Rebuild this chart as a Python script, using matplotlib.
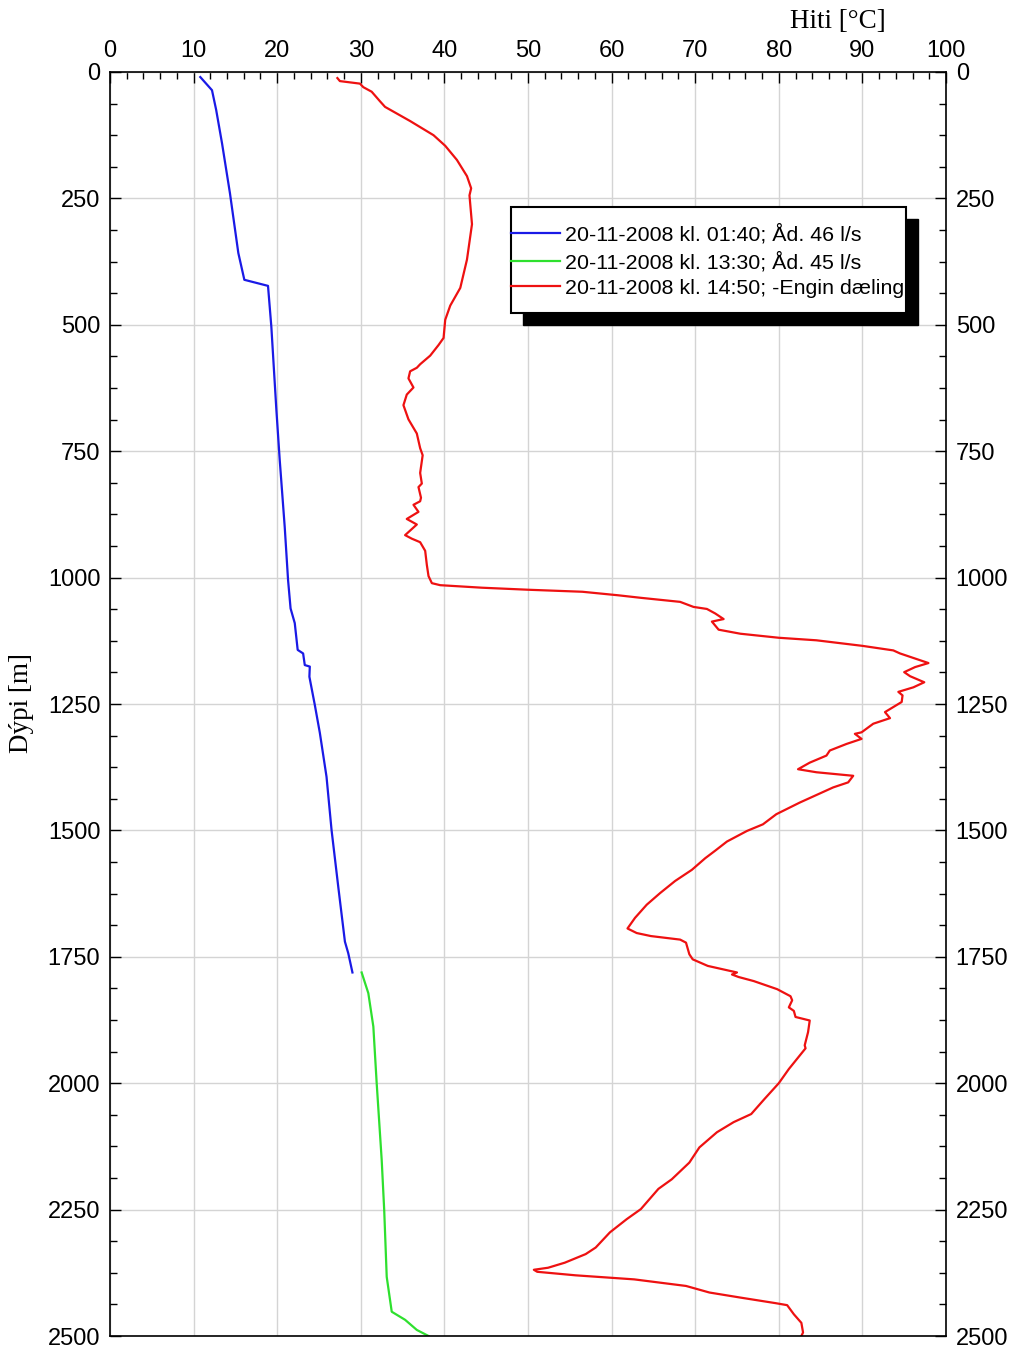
import matplotlib
matplotlib.use("Agg")
import matplotlib.pyplot as plt
from matplotlib.patches import Rectangle
from matplotlib.ticker import MultipleLocator

# ---------------- data ----------------
blue_depth = [10, 36, 75, 141, 240, 358, 411, 423, 504, 668, 767, 900, 1005, 1061,
              1090, 1143, 1150, 1173, 1176, 1196, 1252, 1307, 1394, 1499, 1611, 1720,
              1743, 1781]
blue_temp = [10.8, 12.2, 12.7, 13.4, 14.35, 15.35, 16.07, 18.9, 19.3, 19.9, 20.3, 20.9,
             21.3, 21.6, 22.1, 22.45, 23.1, 23.3, 23.9, 23.85, 24.5, 25.1, 25.9, 26.5,
             27.3, 28.1, 28.5, 29.0]

green_depth = [1781, 1822, 1888, 2000, 2152, 2251, 2383, 2452, 2468, 2488, 2500]
green_temp = [30.1, 30.9, 31.5, 31.9, 32.5, 32.8, 33.1, 33.7, 35.3, 36.7, 38.1]

red_depth = [12, 18, 23, 30, 39, 58, 69, 97, 125, 146, 174, 206, 230, 244, 301, 371,
             427, 462, 490, 526, 540, 561, 578, 585, 592, 606, 624, 638, 659, 687, 715,
             744, 758, 793, 814, 821, 842, 849, 856, 870, 884, 895, 916, 923, 930, 947,
             975, 997, 1011, 1015, 1020, 1024, 1028, 1035, 1040, 1048, 1058, 1062, 1071,
             1082, 1087, 1103, 1111, 1119, 1124, 1135, 1144, 1150, 1169, 1177, 1187,
             1195, 1207, 1217, 1226, 1233, 1246, 1256, 1266, 1278, 1289, 1306, 1309,
             1319, 1329, 1342, 1352, 1366, 1379, 1385, 1392, 1405, 1415, 1445, 1468,
             1488, 1501, 1522, 1540, 1555, 1578, 1600, 1624, 1647, 1673, 1694, 1703,
             1709, 1716, 1722, 1745, 1755, 1768, 1778, 1781, 1785, 1790, 1798, 1814,
             1828, 1836, 1850, 1857, 1869, 1876, 1899, 1925, 1931, 1972, 2000, 2031,
             2061, 2077, 2097, 2127, 2157, 2190, 2209, 2249, 2269, 2295, 2325, 2338,
             2355, 2365, 2369, 2373, 2380, 2388, 2401, 2414, 2424, 2435, 2439, 2457,
             2474, 2493, 2500]
red_temp = [27.2, 27.5, 29.9, 30.3, 31.3, 32.3, 32.9, 35.9, 38.7, 40.1, 41.5, 42.7,
            43.2, 43.0, 43.3, 42.7, 41.9, 40.7, 40.1, 39.9, 39.3, 38.3, 37.1, 36.7,
            35.9, 35.7, 36.3, 35.5, 35.1, 35.7, 36.7, 37.1, 37.4, 37.1, 37.3, 36.9,
            37.2, 37.1, 36.3, 36.9, 35.5, 36.7, 35.3, 36.1, 37.1, 37.7, 37.9, 38.1,
            38.5, 39.5, 44.5, 50.0, 56.5, 60.8, 63.5, 68.2, 69.8, 71.4, 72.4, 73.4,
            72.0, 72.8, 75.4, 80.0, 84.5, 90.0, 93.7, 94.5, 97.9, 96.3, 95.0, 95.7,
            97.4, 96.1, 94.3, 94.8, 94.7, 93.7, 92.7, 93.3, 91.3, 89.9, 89.1, 89.9,
            88.1, 86.1, 85.7, 83.7, 82.3, 84.5, 88.9, 88.3, 86.5, 82.5, 79.7, 78.1,
            76.2, 73.8, 72.4, 71.2, 69.6, 67.6, 65.8, 64.2, 62.8, 61.9, 63.0, 64.7,
            68.2, 68.9, 69.3, 69.7, 71.5, 74.2, 75.0, 74.4, 75.2, 77.0, 79.8, 81.4,
            81.6, 81.2, 81.8, 82.0, 83.7, 83.5, 83.1, 83.2, 81.2, 80.0, 78.3, 76.7,
            74.6, 72.6, 70.5, 69.3, 67.2, 65.6, 63.5, 61.8, 59.8, 58.1, 56.9, 54.4,
            52.4, 50.7, 51.1, 55.7, 62.7, 68.9, 71.7, 75.4, 79.6, 81.0, 81.8, 82.7,
            82.9, 82.7]

labels = ["20-11-2008 kl. 01:40; Åd. 46 l/s",
          "20-11-2008 kl. 13:30; Åd. 45 l/s",
          "20-11-2008 kl. 14:50; -Engin dæling"]
colors = ["#1a1ae6", "#2ee02e", "#ee1111"]

x_ticks = list(range(0, 101, 10))
y_ticks = list(range(0, 2501, 250))

# ---------------- figure ----------------
W, H = 1015, 1349
fig = plt.figure(figsize=(W / 100, H / 100), dpi=100)
L, R, T, B = 110, 946, 72, 1336
ax = fig.add_axes([L / W, 1 - B / H, (R - L) / W, (B - T) / H])

sans = ["Liberation Sans", "DejaVu Sans"]
serif = ["Liberation Serif", "DejaVu Serif"]

ax.plot(blue_temp, blue_depth, color=colors[0], lw=1.6, label=labels[0])
ax.plot(green_temp, green_depth, color=colors[1], lw=1.6, label=labels[1])
ax.plot(red_temp, red_depth, color=colors[2], lw=1.6, label=labels[2])

ax.set_xlim(0, 100)
ax.set_ylim(2500, 0)
ax.set_xticks(x_ticks)
ax.set_yticks(y_ticks)
ax.xaxis.set_minor_locator(MultipleLocator(2))
ax.yaxis.set_minor_locator(MultipleLocator(62.5))
ax.xaxis.tick_top()
ax.tick_params(axis='x', which='both', direction='in', top=True, bottom=False,
               labeltop=True, labelbottom=False)
ax.tick_params(axis='y', which='both', direction='in', left=True, right=True,
               labelleft=True, labelright=True)
ax.tick_params(which='major', length=8, width=1.0, labelsize=17, pad=7)
ax.tick_params(which='minor', length=5, width=1.0)
for lab in ax.get_xticklabels() + ax.get_yticklabels():
    lab.set_family(sans)
for lab in ax.yaxis.get_ticklabels(which='major'):
    lab.set_family(sans)
ax.grid(True, which='major', color='#d4d4d4', lw=1.0)
for s in ax.spines.values():
    s.set_linewidth(1.2)

fig.text(838 / W, 1 - 22 / H, "Hiti [°C]", ha='center', va='center',
         fontsize=19.5, family=serif)
fig.text(22 / W, 1 - 703 / H, "Dýpi [m]", ha='center', va='center',
         rotation=90, fontsize=19.5, family=serif)

# legend box with shadow
def axfx(px):
    return (px - L) / (R - L)

def axfy(py):
    return (B - py) / (B - T)

bx0, bx1, by0, by1 = 511, 906, 207, 313
off = 12
ax.add_patch(Rectangle((axfx(bx0 + off), axfy(by1 + off)),
                       axfx(bx1) - axfx(bx0), axfy(by0) - axfy(by1),
                       transform=ax.transAxes, facecolor='black', edgecolor='black',
                       zorder=4.4, clip_on=False))
ax.add_patch(Rectangle((axfx(bx0), axfy(by1)),
                       axfx(bx1) - axfx(bx0), axfy(by0) - axfy(by1),
                       transform=ax.transAxes, facecolor='white', edgecolor='black',
                       lw=1.5, zorder=4.5, clip_on=False))
leg = ax.legend(loc='center left', bbox_to_anchor=(axfx(bx0), axfy(261)),
                frameon=False, borderpad=0, borderaxespad=0, handlelength=2.3,
                handletextpad=0.23, labelspacing=0.32,
                prop={'family': sans, 'size': 15.4})
leg.set_zorder(5)

fig.savefig("out.png", dpi=100)
